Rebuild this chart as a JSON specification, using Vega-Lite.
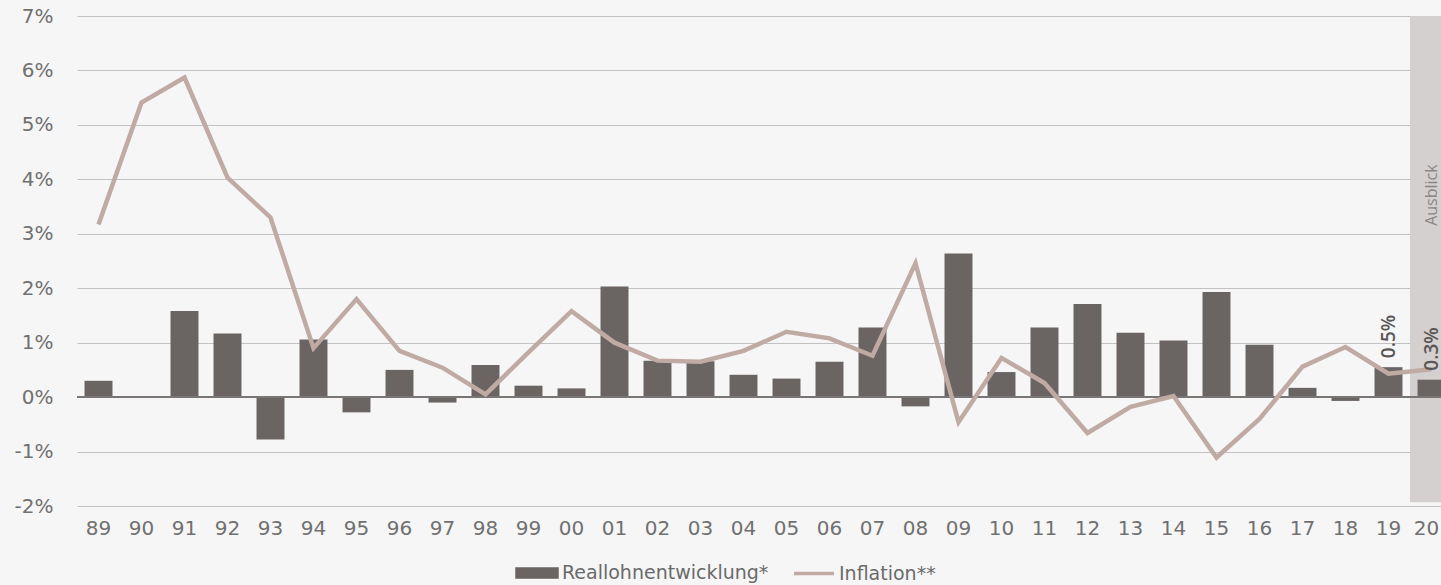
{
  "$schema": "https://vega.github.io/schema/vega-lite/v6.json",
  "autosize": {"type": "none"},
  "width": 1376,
  "height": 490,
  "padding": {"left": 77, "top": 16, "right": 0, "bottom": 79},
  "background": "#f6f6f6",
  "config": {
    "view": {"stroke": null},
    "font": "DejaVu Sans",
    "axis": {"labelFont": "DejaVu Sans", "labelColor": "#707070", "labelFontSize": 20}
  },
  "data": {
    "values": [
      {"yr": "89", "real": 0.3, "infl": 3.17},
      {"yr": "90", "real": 0.0, "infl": 5.41},
      {"yr": "91", "real": 1.58, "infl": 5.87},
      {"yr": "92", "real": 1.17, "infl": 4.03},
      {"yr": "93", "real": -0.78, "infl": 3.3},
      {"yr": "94", "real": 1.06, "infl": 0.9},
      {"yr": "95", "real": -0.28, "infl": 1.8},
      {"yr": "96", "real": 0.5, "infl": 0.85},
      {"yr": "97", "real": -0.1, "infl": 0.54},
      {"yr": "98", "real": 0.59, "infl": 0.05},
      {"yr": "99", "real": 0.21, "infl": 0.82},
      {"yr": "00", "real": 0.16, "infl": 1.58},
      {"yr": "01", "real": 2.03, "infl": 1.0},
      {"yr": "02", "real": 0.67, "infl": 0.67},
      {"yr": "03", "real": 0.66, "infl": 0.65},
      {"yr": "04", "real": 0.41, "infl": 0.85},
      {"yr": "05", "real": 0.34, "infl": 1.2},
      {"yr": "06", "real": 0.65, "infl": 1.08},
      {"yr": "07", "real": 1.28, "infl": 0.76},
      {"yr": "08", "real": -0.17, "infl": 2.46},
      {"yr": "09", "real": 2.64, "infl": -0.46},
      {"yr": "10", "real": 0.46, "infl": 0.72},
      {"yr": "11", "real": 1.28, "infl": 0.26},
      {"yr": "12", "real": 1.71, "infl": -0.66},
      {"yr": "13", "real": 1.18, "infl": -0.18},
      {"yr": "14", "real": 1.04, "infl": 0.02},
      {"yr": "15", "real": 1.93, "infl": -1.11},
      {"yr": "16", "real": 0.96, "infl": -0.4},
      {"yr": "17", "real": 0.17, "infl": 0.56},
      {"yr": "18", "real": -0.07, "infl": 0.92},
      {"yr": "19", "real": 0.55, "infl": 0.43, "note": "0.5%"},
      {"yr": "20", "real": 0.32, "infl": 0.51, "note": "0.3%"}
    ]
  },
  "encoding": {
    "x": {
      "field": "yr",
      "type": "ordinal",
      "scale": {
        "domain": ["89","90","91","92","93","94","95","96","97","98","99","00","01","02","03","04","05","06","07","08","09","10","11","12","13","14","15","16","17","18","19","20"],
        "paddingInner": 0.35,
        "paddingOuter": 0.175
      },
      "axis": {"title": null, "labelAngle": 0, "ticks": false, "domain": false, "labelPadding": 12,
        "labelOffset": {"condition": {"test": "datum.value === '20'", "value": -5}, "value": 0}}
    }
  },
  "layer": [
    {
      "data": {"values": [{"yr": "20", "lo": -1.93, "hi": 7}]},
      "mark": {"type": "rect", "color": "#d4d0d0", "width": {"band": 1.54}},
      "encoding": {
        "y": {"field": "hi", "type": "quantitative", "scale": {"domain": [-2, 7], "nice": false, "zero": false},
          "axis": {"title": null, "values": [-2,-1,0,1,2,3,4,5,6,7], "labelExpr": "datum.value + '%'", "grid": true, "gridColor": "#c2c2c2", "gridWidth": 1, "ticks": false, "domain": false, "labelPadding": 24}},
        "y2": {"field": "lo"}
      }
    },
    {
      "data": {"values": [{"yr": "20", "pos": 3.71, "txt": "Ausblick"}]},
      "mark": {"type": "text", "angle": 270, "align": "center", "baseline": "middle", "fontSize": 16, "color": "#8a8686", "font": "Open Sans"},
      "encoding": {
        "y": {"field": "pos", "type": "quantitative"},
        "text": {"field": "txt"}
      }
    },
    {
      "mark": {"type": "bar", "color": "#6a6463"},
      "encoding": {
        "y": {"field": "real", "type": "quantitative"},
        "color": {"datum": "Reallohnentwicklung*", "type": "nominal",
          "scale": {"domain": ["Reallohnentwicklung*", "Inflation**"], "range": ["#6a6463", "#c0aba4"]},
          "legend": {
            "orient": "none", "legendX": 438, "legendY": 535, "direction": "horizontal", "title": null,
            "symbolSize": 1600, "labelFont": "DejaVu Sans", "labelFontSize": 19, "labelColor": "#6a6a6a",
            "labelOffset": 3, "labelLimit": 0, "columnPadding": 18, "symbolStrokeWidth": 3,
            "encode": {"symbols": {"update": {
              "shape": {"signal": "datum.value === 'Inflation**' ? 'stroke' : 'M-1,-0.2H1V0.2H-1Z'"},
              "fill": {"signal": "datum.value === 'Inflation**' ? 'transparent' : '#6a6463'"},
              "stroke": {"signal": "datum.value === 'Inflation**' ? '#c0aba4' : 'transparent'"},
              "strokeWidth": {"value": 3.5},
              "opacity": {"value": 1}
            }}}
          }}
      }
    },
    {
      "mark": {"type": "rule", "color": "#7a7676", "strokeWidth": 1.5},
      "encoding": {"y": {"datum": 0, "type": "quantitative"}, "x": {"value": 0}, "x2": {"value": 1376}}
    },
    {
      "mark": {"type": "line", "strokeWidth": 4.5, "strokeJoin": "miter"},
      "encoding": {
        "y": {"field": "infl", "type": "quantitative"},
        "color": {"datum": "Inflation**", "type": "nominal"}
      }
    },
    {
      "transform": [{"filter": "datum.note != null"}],
      "mark": {"type": "text", "angle": 270, "align": "left", "baseline": "middle", "dx": 9, "fontSize": 19, "fontWeight": 600, "color": "#5a5656", "font": "Open Sans"},
      "encoding": {
        "y": {"field": "real", "type": "quantitative"},
        "text": {"field": "note"}
      }
    }
  ]
}
